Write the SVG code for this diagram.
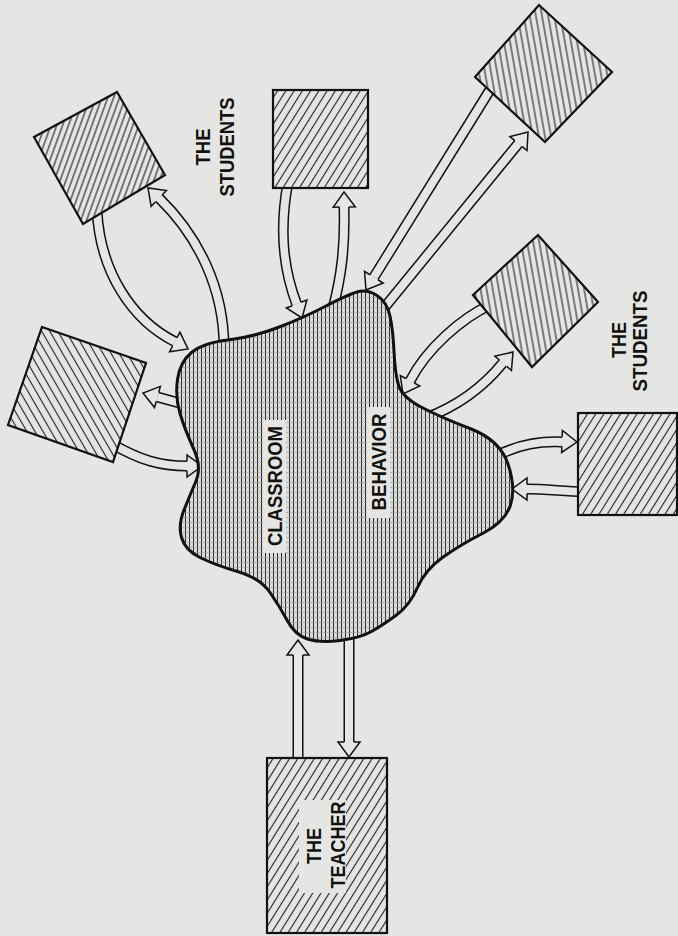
<svg xmlns="http://www.w3.org/2000/svg" xmlns:xlink="http://www.w3.org/1999/xlink" width="678" height="936" viewBox="0 0 678 936">
<style>
.bg{fill:#e5e5e3}
.edge{stroke:#111;stroke-width:2.2;stroke-linejoin:miter}
.lbl{font-family:"Liberation Sans",Arial,sans-serif;font-weight:bold;font-size:21px;fill:#111;text-anchor:middle;dominant-baseline:central}
.clear{fill:#e5e5e3}
.so{fill:none;stroke:#111;stroke-width:11}
.si{fill:none;stroke:#e5e5e3;stroke-width:8}
</style>
<defs>
<pattern id="hblob" width="4" height="5" patternUnits="userSpaceOnUse">
<rect width="4" height="5" fill="#dcdcda"/>
<line x1="1.5" y1="0" x2="1.5" y2="5" stroke="#2a2a2a" stroke-width="1"/>
<line x1="0" y1="2.5" x2="4" y2="2.5" stroke="#9a9a9a" stroke-width="0.6"/>
</pattern>
<pattern id="hUp" width="7" height="10" patternUnits="userSpaceOnUse" patternTransform="rotate(32)">
<rect width="7" height="10" fill="#e5e5e3"/>
<line x1="3.5" y1="0" x2="3.5" y2="10" stroke="#222" stroke-width="1.1"/>
</pattern>
<pattern id="hTL" width="5.5" height="10" patternUnits="userSpaceOnUse" patternTransform="rotate(20)">
<rect width="5.5" height="10" fill="#e5e5e3"/>
<line x1="2.7" y1="0" x2="2.7" y2="10" stroke="#222" stroke-width="1.1"/>
</pattern>
<pattern id="hTR" width="6" height="10" patternUnits="userSpaceOnUse" patternTransform="rotate(-10)">
<rect width="6" height="10" fill="#e5e5e3"/>
<line x1="3" y1="0" x2="3" y2="10" stroke="#222" stroke-width="1.1"/>
</pattern>
<pattern id="hL" width="7" height="10" patternUnits="userSpaceOnUse" patternTransform="rotate(-30)">
<rect width="7" height="10" fill="#e5e5e3"/>
<line x1="3.5" y1="0" x2="3.5" y2="10" stroke="#222" stroke-width="1.1"/>
</pattern>
<path id="hd" d="M-15,-4.75 L-15,-11 L0,0 L-15,11 L-15,4.75" fill="#e5e5e3" stroke="#111" stroke-width="1.5" stroke-linejoin="miter"/>
</defs>
<rect width="678" height="936" class="bg"/>

<g id="connectors">
<!-- teacher -->
<path class="so" d="M298,765 L298,655"/><path class="si" d="M298,765 L298,655"/>
<use xlink:href="#hd" transform="translate(298,640) rotate(-90)"/>
<path class="so" d="M349,630 L349,742"/><path class="si" d="M349,630 L349,742"/>
<use xlink:href="#hd" transform="translate(349,757) rotate(90)"/>
<!-- top middle box -->
<path class="so" d="M288,182 C279,230 283,268 296.6,304"/><path class="si" d="M288,182 C279,230 283,268 296.6,304"/>
<use xlink:href="#hd" transform="translate(302,318) rotate(69)"/>
<path class="so" d="M332,312 C342,275 345,245 344,207"/><path class="si" d="M332,312 C342,275 345,245 344,207"/>
<use xlink:href="#hd" transform="translate(344,192) rotate(-91)"/>
<!-- top left box -->
<path class="so" d="M97,210 C100,272 132,320 174.9,341.7"/><path class="si" d="M97,210 C100,272 132,320 174.9,341.7"/>
<use xlink:href="#hd" transform="translate(188,349) rotate(28)"/>
<path class="so" d="M224,348 C224,288 198,236 159,198"/><path class="si" d="M224,348 C224,288 198,236 159,198"/>
<use xlink:href="#hd" transform="translate(148,188) rotate(-136)"/>
<!-- left box -->
<path class="so" d="M183,404 L157.5,397"/><path class="si" d="M183,404 L157.5,397"/>
<use xlink:href="#hd" transform="translate(143,393) rotate(-164.6)"/>
<path class="so" d="M112,444 C140,460 160,466 187,466"/><path class="si" d="M112,444 C140,460 160,466 187,466"/>
<use xlink:href="#hd" transform="translate(202,466) rotate(0)"/>
<!-- top right box -->
<path class="so" d="M493,85 L373.9,277.2"/><path class="si" d="M493,85 L373.9,277.2"/>
<use xlink:href="#hd" transform="translate(366,290) rotate(121.8)"/>
<path class="so" d="M384,308 L518.4,143.5"/><path class="si" d="M384,308 L518.4,143.5"/>
<use xlink:href="#hd" transform="translate(528,132) rotate(-50.7)"/>
<!-- middle right box -->
<path class="so" d="M490,305 C462,318 427,348 410,381"/><path class="si" d="M490,305 C462,318 427,348 410,381"/>
<use xlink:href="#hd" transform="translate(403,394) rotate(118)"/>
<path class="so" d="M426,418 C460,405 485,385 502.8,363"/><path class="si" d="M426,418 C460,405 485,385 502.8,363"/>
<use xlink:href="#hd" transform="translate(513,352) rotate(-49)"/>
<!-- bottom right box -->
<path class="so" d="M496,456 C520,444 540,441 562,442"/><path class="si" d="M496,456 C520,444 540,441 562,442"/>
<use xlink:href="#hd" transform="translate(577,442) rotate(2)"/>
<path class="so" d="M585,492 C560,491 545,489 527,489"/><path class="si" d="M585,492 C560,491 545,489 527,489"/>
<use xlink:href="#hd" transform="translate(512,489) rotate(180)"/>
</g>

<g id="classroom-behavior">
<path d="M177.5,379.5 Q180,362 191.5,352.5 Q203,343 228,340 Q253,337 278,327.5 Q303,318 325,306.5 Q347,295 357,292 Q367,289 377,295.5 Q387,302 390,316 Q393,330 394,351.5 Q395,373 398.5,385 Q402,397 421,407 Q440,417 470,428.5 Q500,440 508,464 Q516,488 510.5,505 Q505,522 482.5,533.5 Q460,545 442.5,557.5 Q425,570 417.5,587.5 Q410,605 396.5,615 Q383,625 371.5,631.5 Q360,638 340,640.5 Q320,643 307.5,639 Q295,635 287.5,621 Q280,607 270,592.5 Q260,578 237.5,571.5 Q215,565 200,557.5 Q185,550 181.5,537.5 Q178,525 184,510 Q190,495 196,481 Q202,467 193.5,448.5 Q185,430 180,413.5 Q175,397 177.5,379.5 Z" fill="url(#hblob)" stroke="#111" stroke-width="3"/>
<rect class="clear" x="263" y="420" width="23" height="133"/>
<rect class="clear" x="367" y="407" width="23" height="111"/>
<text class="lbl" transform="translate(274.5,486) rotate(-90)" textLength="120" lengthAdjust="spacingAndGlyphs">CLASSROOM</text>
<text class="lbl" transform="translate(378.5,462) rotate(-90)" textLength="97" lengthAdjust="spacingAndGlyphs">BEHAVIOR</text>
</g>

<g id="teacher">
<rect x="267" y="758" width="120" height="175" fill="url(#hUp)" class="edge"/>
<rect class="clear" x="299" y="800" width="47" height="93"/>
<text class="lbl" transform="translate(313,846) rotate(-90)" textLength="36" lengthAdjust="spacingAndGlyphs">THE</text>
<text class="lbl" transform="translate(337,845) rotate(-90)" textLength="87" lengthAdjust="spacingAndGlyphs">TEACHER</text>
</g>

<g id="student-top-left">
<polygon points="34,137 117,92 165,175 83,224" fill="url(#hTL)" class="edge"/>
</g>
<g id="student-top-middle">
<rect x="273" y="90" width="95" height="98" fill="url(#hUp)" class="edge"/>
</g>
<g id="student-top-right">
<polygon points="475,77 539,5 612,72 545,142" fill="url(#hTR)" class="edge"/>
</g>
<g id="student-middle-right">
<polygon points="473,295 538,235 598,302 532,367" fill="url(#hTR)" class="edge"/>
</g>
<g id="student-bottom-right">
<rect x="578" y="413" width="99" height="102" fill="url(#hUp)" class="edge"/>
</g>
<g id="student-left">
<polygon points="42,327 146,363 113,462 8,425" fill="url(#hL)" class="edge"/>
</g>

<g id="label-students-top">
<text class="lbl" transform="translate(202,147) rotate(-90)" textLength="37" lengthAdjust="spacingAndGlyphs">THE</text>
<text class="lbl" transform="translate(226,147) rotate(-90)" textLength="99" lengthAdjust="spacingAndGlyphs">STUDENTS</text>
</g>
<g id="label-students-right">
<text class="lbl" transform="translate(618,340) rotate(-90)" textLength="36" lengthAdjust="spacingAndGlyphs">THE</text>
<text class="lbl" transform="translate(639,341) rotate(-90)" textLength="101" lengthAdjust="spacingAndGlyphs">STUDENTS</text>
</g>
</svg>
